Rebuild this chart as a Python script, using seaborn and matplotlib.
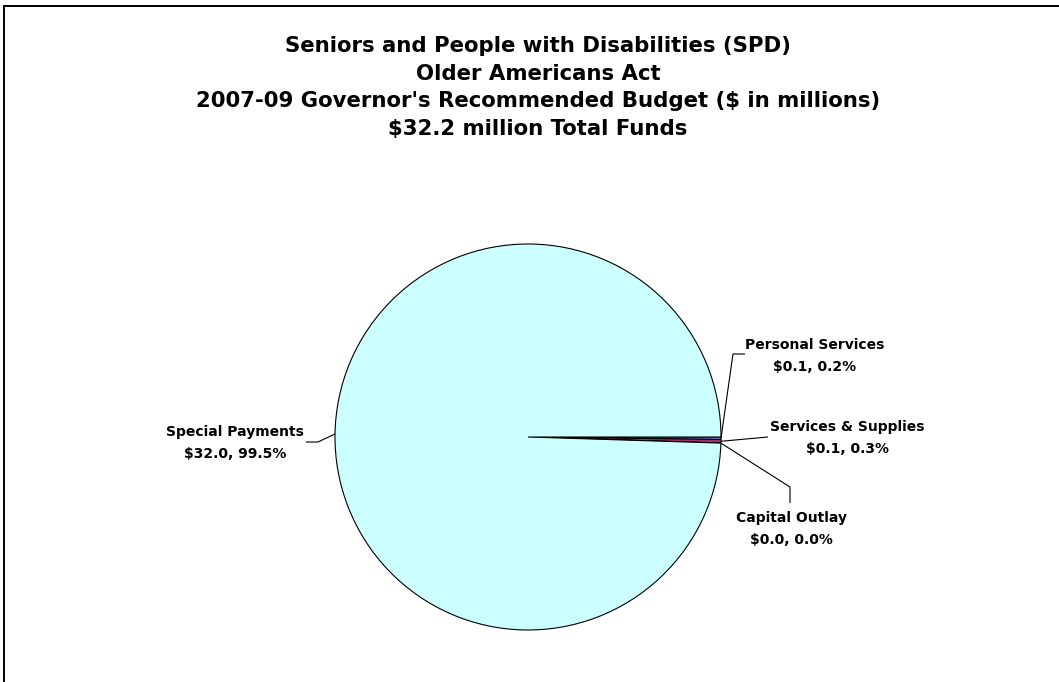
import numpy as np
import matplotlib
matplotlib.use("Agg")
import matplotlib.pyplot as plt
from matplotlib.lines import Line2D
import seaborn as sns

# Budget components, $ in millions
categories = ["Personal Services", "Services & Supplies", "Capital Outlay", "Special Payments"]
amounts = [0.065, 0.097, 0.0, 32.04]
slice_colors = ["#9999FF", "#993366", "#FFFFCC", "#CCFFFF"]
title_lines = [
    "Seniors and People with Disabilities (SPD)",
    "Older Americans Act",
    "2007-09 Governor's Recommended Budget ($ in millions)",
    "$32.2 million Total Funds",
]

sns.set_theme(style="white")
plt.rcParams["font.family"] = ["DejaVu Sans"]

W, H = 1059, 682
fig = plt.figure(figsize=(W / 100, H / 100), dpi=100)
fig.patch.set_facecolor("white")
ax = fig.add_axes([0, 0, 1, 1])

# Work in pixel-like units (y measured upward)
cx, cy, r = 528, H - 437, 193
wedges, _ = ax.pie(amounts, colors=slice_colors, startangle=0, counterclock=False,
                   center=(cx, cy), radius=r,
                   wedgeprops=dict(edgecolor="black", linewidth=0.8))
ax.set_xlim(0, W)
ax.set_ylim(0, H)
ax.set_aspect("auto")
ax.axis("off")

total = sum(amounts)

def rim_point(w):
    mid = np.deg2rad((w.theta1 + w.theta2) / 2)
    return cx + r * np.cos(mid), cy + r * np.sin(mid)

# Leader line bends and label anchors (pixel layout, y from top)
layout = {
    "Personal Services": dict(path=[(733, 354), (745, 354)], text=(815, 356)),
    "Services & Supplies": dict(path=[(768, 437)], text=(847, 438)),
    "Capital Outlay": dict(path=[(790, 487), (790, 503)], text=(791, 529)),
    "Special Payments": dict(path=[(318, 442), (306, 442)], text=(235, 443)),
}

for name, amt, w in zip(categories, amounts, wedges):
    x0, y0 = rim_point(w)
    pts = [(x0, y0)] + [(px, H - py) for px, py in layout[name]["path"]]
    xs, ys = zip(*pts)
    ax.plot(xs, ys, color="black", linewidth=0.8, solid_capstyle="butt")
    tx, ty = layout[name]["text"]
    ax.text(tx, H - ty, f"{name}\n${amt:.1f}, {amt / total * 100:.1f}%",
            ha="center", va="center", fontsize=10, fontweight="bold",
            linespacing=1.7, color="black")

# Title block
for i, line in enumerate(title_lines):
    ax.text(538, H - (46 + i * 27.7), line, ha="center", va="center",
            fontsize=15.3, fontweight="bold", color="black")

# Chart frame (top and left edges)
fig.add_artist(Line2D([4 / W, 1], [1 - 6 / H, 1 - 6 / H], transform=fig.transFigure,
                      color="black", linewidth=1.4))
fig.add_artist(Line2D([4 / W, 4 / W], [0, 1 - 6 / H], transform=fig.transFigure,
                      color="black", linewidth=1.4))

fig.savefig("out.png", dpi=100, facecolor="white")
